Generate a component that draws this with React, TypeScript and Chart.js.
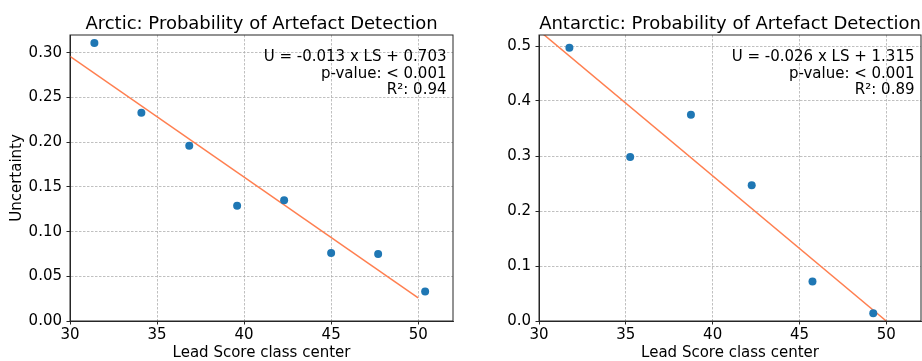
import React, { useEffect, useRef } from "react";
import { Chart, registerables } from "chart.js";

Chart.register(...registerables);

// ---- Data ----
const arcticLS = [31.4, 34.1, 36.85, 39.6, 42.3, 45.0, 47.7, 50.4];
const arcticU = [0.311, 0.233, 0.196, 0.129, 0.135, 0.076, 0.075, 0.033];
const arcticFitLS = [30, 50];
const arcticFitU = [0.296, 0.026];
const arcticText = ["U = -0.013 x LS + 0.703", "p-value: < 0.001", "R²: 0.94"];

const antarcticLS = [31.75, 35.25, 38.75, 42.25, 45.75, 49.25];
const antarcticU = [0.497, 0.298, 0.375, 0.247, 0.072, 0.014];
const antarcticFitLS = [30, 50];
const antarcticFitU = [0.528, 0.0];
const antarcticText = ["U = -0.026 x LS + 1.315", "p-value: < 0.001", "R²: 0.89"];

const xTickStep = 5;
const FONT = "'DejaVu Sans', 'Liberation Sans', sans-serif";

const framePlugin = {
  id: "frameAndNote",
  afterDatasetsDraw(chart: any) {
    const { ctx, chartArea } = chart;
    const { left, top, right, bottom } = chartArea;
    ctx.save();
    ctx.strokeStyle = "#262626";
    ctx.lineWidth = 1;
    ctx.setLineDash([]);
    ctx.strokeRect(left, top, right - left, bottom - top);
    const note = chart.options.plugins.note || {};
    const lines: string[] = note.lines || [];
    ctx.fillStyle = "#000";
    ctx.font = `15px ${FONT}`;
    ctx.textAlign = "right";
    ctx.textBaseline = "alphabetic";
    const offs = [26, 42.5, 58.5];
    lines.forEach((t, i) => ctx.fillText(t, right - 6.5, top + offs[i]));
    if (note.title) {
      ctx.font = `18px ${FONT}`;
      ctx.textAlign = "center";
      ctx.fillText(note.title, (left + right) / 2, top - 6.5);
    }
    ctx.restore();
  },
};

function zeroPad(s: any) {
  s.paddingLeft = 0;
  s.paddingRight = 0;
  s.paddingTop = 0;
  s.paddingBottom = 0;
}

function makeConfig(
  title: string,
  xs: number[],
  ys: number[],
  fx: number[],
  fy: number[],
  note: string[],
  yMax: number,
  yStep: number,
  yDigits: number,
  yTitle: string | null,
  yWidth: number,
  padRight: number
): any {
  return {
    type: "scatter",
    data: {
      datasets: [
        {
          label: "points",
          data: xs.map((x, i) => ({ x, y: ys[i] })),
          backgroundColor: "#1f77b4",
          borderColor: "#1f77b4",
          borderWidth: 0,
          pointRadius: 4,
        },
        {
          type: "line",
          label: "fit",
          data: fx.map((x, i) => ({ x, y: fy[i] })),
          borderColor: "#ff7f50",
          borderWidth: 1.5,
          pointRadius: 0,
          showLine: true,
          fill: false,
          clip: 0,
        },
      ],
    },
    options: {
      animation: false,
      responsive: false,
      devicePixelRatio: 1,
      layout: { autoPadding: false, padding: { left: 0, right: padRight, top: 35, bottom: 0 } },
      plugins: {
        legend: { display: false },
        tooltip: { enabled: false },
        title: { display: false },
        note: { lines: note, title },
      },
      scales: {
        x: {
          type: "linear",
          min: 30,
          max: 52,
          ticks: {
            stepSize: xTickStep,
            includeBounds: false,
            color: "#000",
            font: { family: FONT, size: 15 },
            padding: 2,
            maxRotation: 0,
          },
          grid: {
            color: "#b0b0b0",
            lineWidth: 0.8,
            drawTicks: true,
            tickLength: 3.5,
            tickColor: "#262626",
            tickWidth: 1,
          },
          border: { display: true, color: "#262626", width: 1, dash: [2.5, 1.5] },
          title: {
            display: true,
            text: "Lead Score class center",
            color: "#000",
            font: { family: FONT, size: 15, lineHeight: 1 },
            padding: { top: 0, bottom: 0 },
          },
          afterFit: (s: any) => {
            s.height = 40;
            zeroPad(s);
          },
        },
        y: {
          type: "linear",
          min: 0,
          max: yMax,
          ticks: {
            stepSize: yStep,
            includeBounds: false,
            color: "#000",
            font: { family: FONT, size: 15 },
            padding: 4.5,
            callback: (v: number) => Number(v).toFixed(yDigits),
          },
          grid: {
            color: "#b0b0b0",
            lineWidth: 0.8,
            drawTicks: true,
            tickLength: 3.5,
            tickColor: "#262626",
            tickWidth: 1,
          },
          border: { display: true, color: "#262626", width: 1, dash: [2.5, 1.5] },
          title: {
            display: !!yTitle,
            text: yTitle || "",
            color: "#000",
            font: { family: FONT, size: 15, lineHeight: 1.2 },
            padding: { top: 8, bottom: 0 },
          },
          afterFit: (s: any) => {
            s.width = yWidth;
            zeroPad(s);
          },
        },
      },
    },
    plugins: [framePlugin],
  };
}

function Panel(props: { cfg: any; left: number; width: number }) {
  const ref = useRef<HTMLCanvasElement | null>(null);
  useEffect(() => {
    if (!ref.current) return;
    const chart = new Chart(ref.current, props.cfg);
    return () => chart.destroy();
  }, []);
  return (
    <canvas
      ref={ref}
      width={props.width}
      height={361}
      style={{ position: "absolute", left: props.left, top: 0, width: props.width, height: 361 }}
    />
  );
}

export default function App() {
  const leftCfg = makeConfig(
    "Arctic: Probability of Artefact Detection",
    arcticLS,
    arcticU,
    arcticFitLS,
    arcticFitU,
    arcticText,
    0.32,
    0.05,
    2,
    "Uncertainty",
    70,
    7
  );
  const rightCfg = makeConfig(
    "Antarctic: Probability of Artefact Detection",
    antarcticLS,
    antarcticU,
    antarcticFitLS,
    antarcticFitU,
    antarcticText,
    0.52,
    0.1,
    1,
    null,
    79,
    1
  );
  return (
    <div style={{ position: "absolute", left: 0, top: 0, width: 922, height: 361, background: "#fff", overflow: "hidden" }}>
      <Panel cfg={leftCfg} left={0} width={460} />
      <Panel cfg={rightCfg} left={460} width={462} />
    </div>
  );
}
